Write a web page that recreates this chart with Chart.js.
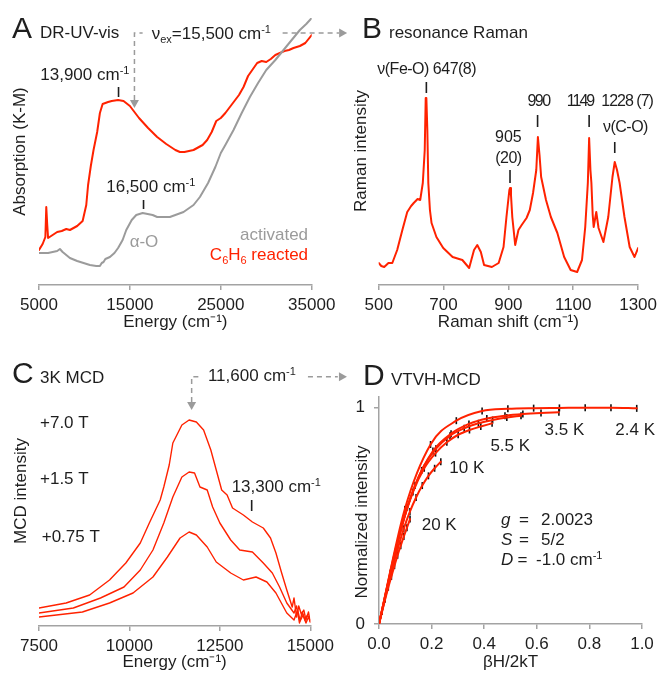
<!DOCTYPE html>
<html>
<head>
<meta charset="utf-8">
<title>DR-UV-vis, resonance Raman, MCD and VTVH-MCD</title>
<script src="https://cdn.jsdelivr.net/npm/chart.js@4.4.1/dist/chart.umd.min.js"></script>
<style>
  html, body { margin:0; padding:0; background:#ffffff; }
  #fig { position:relative; width:662px; height:675px; overflow:hidden; background:#ffffff; }
  #fig canvas { position:absolute; left:0; top:0; }
</style>
</head>
<body>
<div id="fig">
  <canvas id="panelA" width="662" height="675"></canvas>
  <canvas id="panelB" width="662" height="675"></canvas>
  <canvas id="panelC" width="662" height="675"></canvas>
  <canvas id="panelD" width="662" height="675"></canvas>
</div>
<script>
// ================= DATA =================
// Panel A: DR-UV-vis (energy in cm-1, absorption in K-M units, arbitrary)
const uvEnergyActivated = [5000,5500,6000,6500,7000,7300,7600,8400,9200,9900,10600,11300,11700,11900,12100,12300,12800,13300,13700,14200,14600,15200,15700,16400,17500,18000,19400,20000,20900,22000,22700,23600,24400,25000,25500,26400,27300,28200,29100,30000,31000,31900,32800,33700,34400,35000];
const uvAbsActivated    = [0.32,0.32,0.32,0.33,0.34,0.36,0.33,0.27,0.24,0.22,0.20,0.19,0.19,0.22,0.23,0.26,0.28,0.32,0.37,0.45,0.55,0.65,0.70,0.72,0.70,0.68,0.68,0.70,0.73,0.80,0.88,1.02,1.18,1.32,1.40,1.55,1.72,1.88,2.02,2.15,2.25,2.35,2.45,2.55,2.61,2.67];
const uvEnergyReacted   = [5000,5400,5700,5800,5900,6000,6500,7000,7500,8000,8400,9200,9800,10200,10400,10700,11000,11400,11700,12000,12600,13000,13700,14300,15000,15500,16000,17000,18000,19000,20000,20500,21000,22000,23000,23500,24000,24500,25000,25500,26000,27000,27500,28000,29000,29500,30000,30500,31000,31500,32000,32500,33000,33700,34300,35000];
const uvAbsReacted      = [0.35,0.41,0.48,0.78,0.61,0.47,0.50,0.53,0.54,0.56,0.55,0.59,0.64,0.80,1.00,1.19,1.35,1.53,1.72,1.81,1.83,1.84,1.85,1.84,1.79,1.73,1.67,1.57,1.48,1.41,1.35,1.33,1.33,1.35,1.40,1.45,1.53,1.64,1.67,1.72,1.78,1.90,1.98,2.09,2.22,2.24,2.23,2.26,2.30,2.32,2.34,2.35,2.37,2.39,2.42,2.50];
const uvTicks = [5000, 15000, 25000, 35000];

// Panel B: resonance Raman (shift in cm-1, intensity arbitrary)
const ramanShift     = [500,508,517,530,542,557,573,588,600,608,620,628,636,642,645,647,650,653,658,663,678,699,728,758,779,794,804,815,825,849,870,885,894,903,905,908,912,921,931,941,956,966,976,986,991,996,1001,1016,1031,1051,1072,1092,1112,1127,1137,1145,1149,1153,1156,1160,1163,1171,1178,1193,1208,1221,1228,1235,1243,1258,1274,1289,1300];
const ramanIntensity = [22,19,18,22,22,35,55,73,79,82,86,85,102,135,187,187,155,102,75,62,48,37,28,25,17,35,40,33,20,18,22,38,68,95,97,90,68,40,55,60,67,75,92,115,148,130,108,85,68,52,28,15,13,25,58,102,147,115,102,70,58,73,57,43,68,108,123,115,102,68,38,28,37];
const ramanTicks = [500, 700, 900, 1100, 1300];

// Panel C: 3 K MCD at three fields (energy in cm-1, intensity arbitrary)
const mcdEnergy7T  = [7500,8250,8900,9450,9900,10300,10550,10850,10950,11100,11200,11450,11650,11850,12050,12250,12400,12550,12700,12850,13150,13400,13700,13900,14050,14200,14350,14500,14550,14620,14680,14750,14820,14880,14950,15000];
const mcd7T        = [18,23,31,46,63,83,103,126,139,161,183,201,206,204,196,176,156,136,131,118,111,104,98,88,73,54,36,19,28,9,20,12,16,6,14,4];
const mcdEnergy1p5T = [7500,8450,9200,9850,10300,10650,10950,11200,11450,11650,11800,11950,12150,12300,12500,12800,13050,13400,13700,13950,14150,14350,14550,14620,14700,14780,14850,14920,15000];
const mcd1p5T       = [13,18,28,39,56,76,103,129,149,154,153,139,136,119,103,86,76,74,63,53,39,23,13,20,3,14,6,11,6];
const mcdEnergy0p75T = [7500,8700,9450,10100,10650,11050,11400,11650,11850,12150,12400,12800,13150,13500,13800,14050,14350,14550,14650,14720,14800,14880,14950,15000];
const mcd0p75T       = [9,14,23,33,49,69,88,94,91,79,64,53,46,49,44,33,13,6,16,5,11,3,9,4];
const mcdTicks = [7500, 10000, 12500, 15000];

// Panel D: VTVH-MCD (betaH/2kT vs normalized intensity)
const vtvhX2p4K = [0,0.098,0.196,0.294,0.392,0.49,0.588,0.686,0.784,0.882,0.98];
const vtvhY2p4K = [0,0.53,0.83,0.94,0.985,0.995,0.998,0.999,1.0,1.0,0.997];
const vtvhX3p5K = [0,0.068,0.137,0.205,0.274,0.342,0.41,0.479,0.547,0.616,0.684];
const vtvhY3p5K = [0,0.37,0.64,0.80,0.88,0.925,0.95,0.963,0.971,0.976,0.979];
const vtvhX4p2K = [0,0.054,0.108,0.162,0.216,0.27,0.324,0.378,0.432,0.486,0.54];
const vtvhY4p2K = [0,0.29,0.54,0.71,0.81,0.87,0.905,0.928,0.943,0.955,0.963];
const vtvhX5p5K = [0,0.043,0.086,0.129,0.172,0.215,0.258,0.301,0.344,0.387,0.43];
const vtvhY5p5K = [0,0.235,0.45,0.61,0.72,0.79,0.84,0.875,0.897,0.913,0.928];
const vtvhX10K  = [0,0.0235,0.047,0.0705,0.094,0.1175,0.141,0.1645,0.188,0.2115,0.235];
const vtvhY10K  = [0,0.12,0.24,0.345,0.44,0.52,0.585,0.64,0.685,0.72,0.75];
const vtvhX20K  = [0,0.0118,0.0236,0.0354,0.0472,0.059,0.0708,0.0826,0.0944,0.1062,0.118];
const vtvhY20K  = [0,0.058,0.115,0.17,0.22,0.27,0.318,0.362,0.405,0.445,0.485];
const vtvhXTicks = [0, 0.2, 0.4, 0.6, 0.8, 1.0];
const vtvhYTicks = [0, 1];

// ================= STYLE / HELPERS =================
const FONT = "'Liberation Sans', Arial, Helvetica, sans-serif";
const INK = '#1e1e1e', AXIS = '#a3a3a3', RED = '#ff2200', GREY = '#9b9b9b';
Chart.defaults.font.family = FONT;
Chart.defaults.font.size = 17;
Chart.defaults.color = INK;

const pts = (xs, ys) => xs.map((x, i) => ({x: x, y: ys[i]}));

function xAxis(o) {
  return {
    type: 'linear', position: 'bottom', min: o.min, max: o.max,
    afterFit: s => { s.height = o.height; },
    afterBuildTicks: s => { s.ticks = o.ticks.map(v => ({value: v})); },
    ticks: { autoSkip: false, maxRotation: 0, minRotation: 0, padding: 5, color: INK, font: {size: 17},
             callback: o.format || (v => String(v)) },
    grid: { display: true, drawOnChartArea: false, drawTicks: true, tickLength: 5, color: AXIS, lineWidth: 1.5 },
    border: { display: true, color: AXIS, width: 1.5 },
    title: { display: true, text: o.title, color: INK, font: {size: 17}, padding: {top: 0, bottom: o.titlePad} }
  };
}
function yAxisBare(o) {
  return {
    type: 'linear', position: 'left', min: o.min, max: o.max,
    afterFit: s => { s.width = o.width; },
    ticks: { display: false }, grid: { display: false }, border: { display: false },
    title: { display: true, text: o.title, color: INK, font: {size: 17}, padding: {top: o.titlePad, bottom: 0} }
  };
}
function baseOptions(padding, scales) {
  return {
    responsive: false, animation: false, devicePixelRatio: 1, events: [],
    layout: { padding: padding },
    plugins: { legend: { display: false }, tooltip: { enabled: false } },
    elements: { point: { radius: 0 }, line: { borderJoinStyle: 'round', borderCapStyle: 'round' } },
    scales: scales
  };
}
function drawRich(ctx, parts, x, y, align, color, size, rotate, ls) {
  ctx.save();
  ctx.letterSpacing = (ls || 0) + 'px';
  const segs = parts.map(p => {
    const small = p.sup || p.sub;
    const s = small ? Math.round(size * 0.64) : size;
    const f = (p.it ? 'italic ' : '') + s + 'px ' + FONT;
    ctx.font = f;
    return { t: p.t, f: f, w: ctx.measureText(p.t).width, dy: p.sup ? -size * 0.36 : (p.sub ? size * 0.24 : 0) };
  });
  const total = segs.reduce((a, s) => a + s.w, 0);
  ctx.translate(x, y);
  if (rotate) ctx.rotate(rotate);
  let cx = align === 'center' ? -total / 2 : (align === 'right' ? -total : 0);
  const base = size * 0.358;
  ctx.fillStyle = color; ctx.textAlign = 'left'; ctx.textBaseline = 'alphabetic';
  for (const s of segs) { ctx.font = s.f; ctx.fillText(s.t, cx, base + s.dy); cx += s.w; }
  ctx.restore();
}
function annotations(items) {
  return {
    id: 'annotations',
    afterDatasetsDraw(chart) {
      const ctx = chart.ctx, sx = chart.scales.x, sy = chart.scales.y;
      const X = v => sx.getPixelForValue(v), Y = v => sy.getPixelForValue(v);
      ctx.save();
      for (const it of items) {
        if (it.kind === 'text') {
          const px = it.pixel ? it.x : X(it.x), py = it.pixel ? it.y : Y(it.y);
          const parts = typeof it.text === 'string' ? [{t: it.text}] : it.text;
          drawRich(ctx, parts, px, py, it.align || 'left', it.color || INK, it.size || 17, it.rotate || 0, it.ls || 0);
        } else if (it.kind === 'mark') {
          ctx.strokeStyle = INK; ctx.lineWidth = 1.6; ctx.setLineDash([]);
          ctx.beginPath(); ctx.moveTo(X(it.x), Y(it.y1)); ctx.lineTo(X(it.x), Y(it.y2)); ctx.stroke();
        } else if (it.kind === 'dash') {
          ctx.strokeStyle = GREY; ctx.lineWidth = 1.5; ctx.setLineDash([5, 4]);
          ctx.beginPath();
          it.path.forEach((p, i) => { if (i) ctx.lineTo(X(p[0]), Y(p[1])); else ctx.moveTo(X(p[0]), Y(p[1])); });
          ctx.stroke(); ctx.setLineDash([]);
        } else if (it.kind === 'arrow') {
          const tx = X(it.x), ty = Y(it.y);
          ctx.fillStyle = GREY; ctx.beginPath();
          if (it.dir === 'down') { ctx.moveTo(tx, ty); ctx.lineTo(tx - 4.5, ty - 8); ctx.lineTo(tx + 4.5, ty - 8); }
          else { ctx.moveTo(tx, ty); ctx.lineTo(tx - 8, ty - 4.5); ctx.lineTo(tx - 8, ty + 4.5); }
          ctx.closePath(); ctx.fill();
        }
      }
      ctx.restore();
    }
  };
}
const SUPM1 = {t: '-1', sup: true};

// ================= PANEL A =================
new Chart(document.getElementById('panelA'), {
  type: 'line',
  data: { datasets: [
    { data: pts(uvEnergyActivated, uvAbsActivated), borderColor: GREY, borderWidth: 2, pointRadius: 0, tension: 0 },
    { data: pts(uvEnergyReacted, uvAbsReacted), borderColor: RED, borderWidth: 2, pointRadius: 0, tension: 0 }
  ]},
  options: baseOptions({left: 0, top: 18, right: 350.3, bottom: 338}, {
    x: xAxis({min: 5000, max: 35000, ticks: uvTicks, height: 52, title: 'Energy (cm\u207B\u00B9)', titlePad: 4}),
    y: yAxisBare({min: 0, max: 2.67, width: 39, title: 'Absorption (K-M)', titlePad: 10})
  }),
  plugins: [annotations([
    {kind: 'text', pixel: true, x: 12, y: 27.6, text: 'A', size: 30},
    {kind: 'text', pixel: true, x: 40, y: 32.2, text: 'DR-UV-vis'},
    {kind: 'text', x: 14950, y: 2.11, align: 'right', text: [{t: '13,900 cm'}, SUPM1]},
    {kind: 'mark', x: 13750, y1: 1.98, y2: 1.88},
    {kind: 'dash', path: [[15500, 1.85], [15500, 2.52], [16400, 2.52]]},
    {kind: 'arrow', x: 15500, y: 1.77, dir: 'down'},
    {kind: 'text', x: 17400, y: 2.52, text: [{t: '\u03BD'}, {t: 'ex', sub: true}, {t: '=15,500 cm'}, SUPM1]},
    {kind: 'dash', path: [[31800, 2.52], [38000, 2.52]]},
    {kind: 'arrow', x: 38900, y: 2.52, dir: 'right'},
    {kind: 'text', x: 17300, y: 0.99, align: 'center', text: [{t: '16,500 cm'}, SUPM1]},
    {kind: 'mark', x: 16500, y1: 0.85, y2: 0.76},
    {kind: 'text', x: 16550, y: 0.44, align: 'center', text: '\u03B1-O', color: GREY},
    {kind: 'text', x: 34600, y: 0.51, align: 'right', text: 'activated', color: GREY},
    {kind: 'text', x: 34600, y: 0.31, align: 'right', color: RED,
      text: [{t: 'C'}, {t: '6', sub: true}, {t: 'H'}, {t: '6', sub: true}, {t: ' reacted'}]}
  ])]
});

// ================= PANEL B =================
new Chart(document.getElementById('panelB'), {
  type: 'line',
  data: { datasets: [
    { data: pts(ramanShift, ramanIntensity), borderColor: RED, borderWidth: 2, pointRadius: 0, tension: 0 }
  ]},
  options: baseOptions({left: 331, top: 17, right: 18.7, bottom: 338}, {
    x: xAxis({min: 500, max: 1300, ticks: ramanTicks, height: 52, title: 'Raman shift (cm\u207B\u00B9)', titlePad: 4}),
    y: yAxisBare({min: 0, max: 268, width: 47.7, title: 'Raman intensity', titlePad: 19.8})
  }),
  plugins: [annotations([
    {kind: 'text', pixel: true, x: 362, y: 27.6, text: 'B', size: 30},
    {kind: 'text', pixel: true, x: 389, y: 32.2, text: 'resonance Raman'},
    {kind: 'text', x: 648, y: 217, align: 'center', size: 16, ls: -0.5, text: '\u03BD(Fe-O) 647(8)'},
    {kind: 'mark', x: 647, y1: 203, y2: 192},
    {kind: 'text', x: 900, y: 149, align: 'center', size: 16, text: '905'},
    {kind: 'text', x: 900, y: 128, align: 'center', size: 16, ls: -0.5, text: '(20)'},
    {kind: 'mark', x: 905, y1: 115, y2: 102},
    {kind: 'text', x: 993, y: 184.5, align: 'center', size: 16, ls: -1.5, text: '990'},
    {kind: 'mark', x: 990, y1: 170, y2: 158},
    {kind: 'text', x: 1121, y: 184.5, align: 'center', size: 16, ls: -2, text: '1149'},
    {kind: 'mark', x: 1149, y1: 170, y2: 158},
    {kind: 'text', x: 1266, y: 184.5, align: 'center', size: 16, ls: -1, text: '1228 (7)'},
    {kind: 'text', x: 1261, y: 159, align: 'center', size: 16, ls: -0.5, text: '\u03BD(C-O)'},
    {kind: 'mark', x: 1228, y1: 143, y2: 132}
  ])]
});

// ================= PANEL C =================
new Chart(document.getElementById('panelC'), {
  type: 'line',
  data: { datasets: [
    { data: pts(mcdEnergy7T, mcd7T), borderColor: RED, borderWidth: 1.4, pointRadius: 0, tension: 0 },
    { data: pts(mcdEnergy1p5T, mcd1p5T), borderColor: RED, borderWidth: 1.4, pointRadius: 0, tension: 0 },
    { data: pts(mcdEnergy0p75T, mcd0p75T), borderColor: RED, borderWidth: 1.4, pointRadius: 0, tension: 0 }
  ]},
  options: baseOptions({left: 0, top: 356, right: 351.7, bottom: 0}, {
    x: xAxis({min: 7500, max: 15000, ticks: mcdTicks, height: 49, title: 'Energy (cm\u207B\u00B9)', titlePad: 2}),
    y: yAxisBare({min: 0, max: 270, width: 39, title: 'MCD intensity', titlePad: 11})
  }),
  plugins: [annotations([
    {kind: 'text', pixel: true, x: 12, y: 372.3, text: 'C', size: 30},
    {kind: 'text', pixel: true, x: 40, y: 377, text: '3K MCD'},
    {kind: 'text', x: 12170, y: 251, text: [{t: '11,600 cm'}, SUPM1]},
    {kind: 'dash', path: [[11720, 224], [11720, 249.3], [11950, 249.3]]},
    {kind: 'arrow', x: 11720, y: 216, dir: 'down'},
    {kind: 'dash', path: [[14935, 249.3], [15760, 249.3]]},
    {kind: 'arrow', x: 16013, y: 249.3, dir: 'right'},
    {kind: 'text', x: 7528, y: 204, text: '+7.0 T'},
    {kind: 'text', x: 7528, y: 148.5, text: '+1.5 T'},
    {kind: 'text', x: 7575, y: 90.5, text: '+0.75 T'},
    {kind: 'text', x: 12826, y: 140, text: [{t: '13,300 cm'}, SUPM1]},
    {kind: 'mark', x: 13379, y1: 126, y2: 115}
  ])]
});

// ================= PANEL D =================
const vtvhSeries = [
  {x: vtvhX2p4K, y: vtvhY2p4K}, {x: vtvhX3p5K, y: vtvhY3p5K}, {x: vtvhX4p2K, y: vtvhY4p2K},
  {x: vtvhX5p5K, y: vtvhY5p5K}, {x: vtvhX10K, y: vtvhY10K}, {x: vtvhX20K, y: vtvhY20K}
];
new Chart(document.getElementById('panelD'), {
  type: 'line',
  data: { datasets:
    vtvhSeries.map(s => ({ data: pts(s.x, s.y), borderColor: RED, borderWidth: 2, pointRadius: 0, cubicInterpolationMode: 'monotone' }))
    .concat(vtvhSeries.map(s => ({ data: pts(s.x, s.y), showLine: false, pointStyle: 'line', pointRotation: 90,
      pointRadius: 3.5, pointBorderColor: '#111111', pointBackgroundColor: '#111111', pointBorderWidth: 1.6 })))
  },
  options: baseOptions({left: 331, top: 396.9, right: 20, bottom: 2}, {
    x: xAxis({min: 0, max: 1, ticks: vtvhXTicks, height: 49, title: '\u03B2H/2kT', titlePad: 0, format: v => Number(v).toFixed(1)}),
    y: {
      type: 'linear', position: 'left', min: 0, max: 1.05,
      afterFit: s => { s.width = 48; },
      afterBuildTicks: s => { s.ticks = vtvhYTicks.map(v => ({value: v})); },
      ticks: { padding: 9, color: INK, font: {size: 17}, callback: v => String(v) },
      grid: { display: true, drawOnChartArea: false, drawTicks: true, tickLength: 5, color: AXIS, lineWidth: 1.5 },
      border: { display: true, color: AXIS, width: 1.5 },
      title: { display: false }
    }
  }),
  plugins: [annotations([
    {kind: 'text', pixel: true, x: 363, y: 374.3, text: 'D', size: 30},
    {kind: 'text', pixel: true, x: 391, y: 379, text: 'VTVH-MCD'},
    {kind: 'text', pixel: true, x: 361, y: 522, align: 'center', rotate: -Math.PI / 2, text: 'Normalized intensity'},
    {kind: 'text', x: 0.705, y: 0.902, align: 'center', text: '3.5 K'},
    {kind: 'text', x: 0.974, y: 0.902, align: 'center', text: '2.4 K'},
    {kind: 'text', x: 0.499, y: 0.830, align: 'center', text: '5.5 K'},
    {kind: 'text', x: 0.334, y: 0.726, align: 'center', text: '10 K'},
    {kind: 'text', x: 0.229, y: 0.465, align: 'center', text: '20 K'},
    {kind: 'text', x: 0.464, y: 0.485, text: [{t: 'g', it: true}]},
    {kind: 'text', x: 0.532, y: 0.485, text: '='},
    {kind: 'text', x: 0.616, y: 0.485, text: '2.0023'},
    {kind: 'text', x: 0.464, y: 0.393, text: [{t: 'S', it: true}]},
    {kind: 'text', x: 0.532, y: 0.393, text: '='},
    {kind: 'text', x: 0.616, y: 0.393, text: '5/2'},
    {kind: 'text', x: 0.464, y: 0.300, text: [{t: 'D', it: true}]},
    {kind: 'text', x: 0.527, y: 0.300, text: '='},
    {kind: 'text', x: 0.597, y: 0.300, text: [{t: '-1.0 cm'}, SUPM1]}
  ])]
});
</script>
</body>
</html>
